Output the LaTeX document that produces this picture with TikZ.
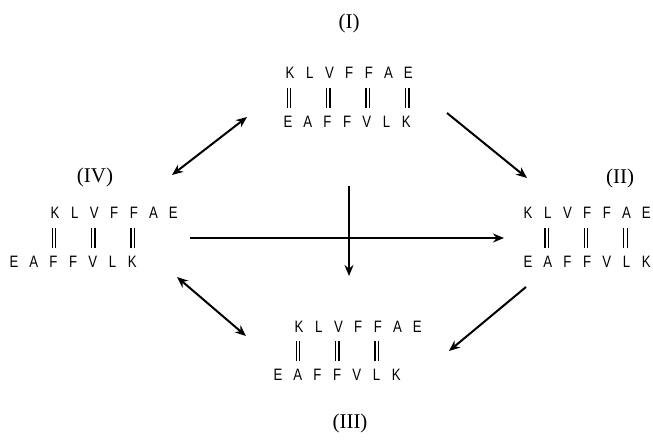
\documentclass[tikz,border=0pt]{standalone}
\usepackage{fontspec}
\setmainfont{Liberation Serif}
\newfontfamily\seqfont[FakeStretch=0.8]{Liberation Sans}
\usetikzlibrary{arrows.meta}
\newcommand\mystrand[6]{%
  \foreach \c [count=\i from 0] in {K,L,V,F,F,A,E}
    \node[res] (#1t\i) at ({#2+19.7*\i},#4) {\c};
  \foreach \c [count=\i from 0] in {E,A,F,F,V,L,K}
    \node[res] (#1b\i) at ({#3+19.7*\i},#5) {\c};
  \foreach \k in {#6}{%
    \pgfmathsetmacro\bx{#2+19.7*\k-1}%
    \pgfmathsetmacro\by{(#4+#5)/2}%
    \draw[bond] (\bx-1.7,\by-10) -- (\bx-1.7,\by+10)
                (\bx+1.7,\by-10) -- (\bx+1.7,\by+10);}%
}
\begin{document}
\begin{tikzpicture}[x=1pt,y=-1pt,
  res/.style={font=\seqfont\fontsize{16.5}{16.5}\selectfont, inner sep=0pt, anchor=center},
  lab/.style={font=\fontsize{21}{21}\selectfont, inner sep=0pt},
  bond/.style={line width=1.3pt},
  conn/.style={line width=2pt, -{Stealth[length=11pt,width=9pt]}},
  dconn/.style={line width=2pt, {Stealth[length=11pt,width=9pt]}-{Stealth[length=11pt,width=9pt]}}]
\useasboundingbox (0,0) rectangle (653,439);
\fill[white] (0,0) rectangle (653,439);

% labels
\node[lab] (L1) at (349,23) {(I)};
\node[lab] (L4) at (95,177) {(IV)};
\node[lab] (L2) at (620,178) {(II)};
\node[lab] (L3) at (350,423) {(III)};

% strands
\mystrand{S1}{290}{288}{73}{122}{0,2,4,6}
\mystrand{S4}{55}{14}{213}{262}{0,2,4}
\mystrand{S2}{528}{528}{213}{262}{1,3,5}
\mystrand{S3}{299}{278}{327}{375}{0,2,4}

% connector ends
\coordinate (a1s) at (172,175); \coordinate (a1e) at (247,117);
\coordinate (a2s) at (447,113); \coordinate (a2e) at (527,178);
\coordinate (a3s) at (190,238); \coordinate (a3e) at (504,238);
\coordinate (a4s) at (349,186); \coordinate (a4e) at (349,276);
\coordinate (a5s) at (177,277); \coordinate (a5e) at (246,336);
\coordinate (a6s) at (526,287); \coordinate (a6e) at (449,351);

\draw[dconn] (a1s) -- (a1e);
\draw[conn] (a2s) -- (a2e);
\draw[conn] (a3s) -- (a3e);
\draw[conn] (a4s) -- (a4e);
\draw[dconn] (a5s) -- (a5e);
\draw[conn] (a6s) -- (a6e);
\end{tikzpicture}
\end{document}
